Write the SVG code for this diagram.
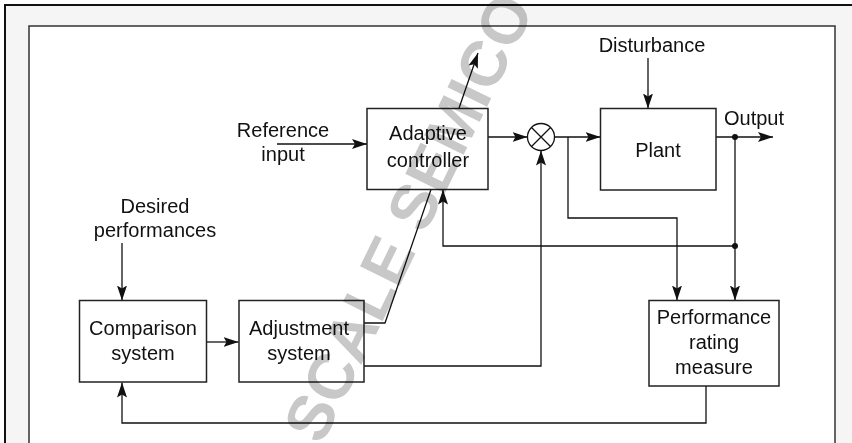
<svg xmlns="http://www.w3.org/2000/svg" width="852" height="443" viewBox="0 0 852 443">
<style>
.t{font-family:"Liberation Sans",Arial,sans-serif;font-size:20px;fill:#111;text-anchor:middle}
.box{fill:#fff;stroke:#222;stroke-width:1.5}
.ln{fill:none;stroke:#111;stroke-width:1.3}
.arr{marker-end:url(#ah)}
.wm{font-family:"Liberation Sans",Arial,sans-serif;font-weight:bold;font-size:64px;fill:#c8c8c8;mix-blend-mode:multiply}
</style>
<defs>
<marker id="ah" markerUnits="userSpaceOnUse" markerWidth="16" markerHeight="10" refX="15" refY="5" orient="auto"><path d="M0,0 L15,5 L0,10 L3,5 z" fill="#111"/></marker>
</defs>
<rect x="0" y="0" width="852" height="443" fill="#fff"/>
<rect x="5" y="5" width="900" height="500" fill="#f5f5f5" stroke="#111" stroke-width="2"/>
<rect x="29" y="26" width="806" height="480" fill="#fff" stroke="#333" stroke-width="1.5"/>

<g id="connectors">
<path class="ln arr" d="M277,144 H367"/>
<path class="ln arr" d="M488,137 H527.5"/>
<path class="ln arr" d="M554.5,137 H600.5"/>
<path class="ln arr" d="M648,58 V108.5"/>
<path class="ln arr" d="M716,137 H773"/>
<path class="ln arr" d="M735,137 V300.5"/>
<path class="ln arr" d="M735,246 H443 V189.5"/>
<path class="ln arr" d="M568,137 V218 H677 V300.5"/>
<path class="ln arr" d="M706,386 V423 H122 V382.5"/>
<path class="ln arr" d="M122,243 V300.5"/>
<path class="ln arr" d="M207,342 H238.5"/>
<path class="ln arr" d="M364,323 H385 L478,53"/>
<path class="ln arr" d="M364,366 H541 V150.5"/>
<circle cx="735" cy="137" r="3" fill="#111"/>
<circle cx="735" cy="246" r="3" fill="#111"/>
</g>

<g id="comparison">
<rect class="box" x="79.5" y="300.5" width="127" height="81.5"/>
<text class="t" x="143" y="335">Comparison</text>
<text class="t" x="143" y="360">system</text>
</g>
<g id="adjustment">
<rect class="box" x="239" y="300.5" width="125" height="81.5"/>
<text class="t" x="299" y="335">Adjustment</text>
<text class="t" x="299" y="360">system</text>
</g>
<g id="controller">
<rect class="box" x="367" y="108.5" width="121" height="81"/>
<text class="t" x="428" y="140">Adaptive</text>
<text class="t" x="428" y="167">controller</text>
</g>
<g id="plant">
<rect class="box" x="600.5" y="108.5" width="115.5" height="81.5"/>
<text class="t" x="658" y="157">Plant</text>
</g>
<g id="performance">
<rect class="box" x="649" y="300.5" width="130" height="85.5"/>
<text class="t" x="714" y="324">Performance</text>
<text class="t" x="714" y="348.5">rating</text>
<text class="t" x="714" y="373.5">measure</text>
</g>
<g id="sum">
<circle cx="541" cy="137" r="13.5" fill="#fff" stroke="#111" stroke-width="1.3"/>
<path d="M531.5,127.5 L550.5,146.5 M550.5,127.5 L531.5,146.5" stroke="#111" stroke-width="1.3"/>
</g>
<g id="labels">
<text class="t" x="652" y="52">Disturbance</text>
<text class="t" x="754" y="125">Output</text>
<text class="t" x="283" y="137">Reference</text>
<text class="t" x="283" y="161">input</text>
<text class="t" x="155" y="213">Desired</text>
<text class="t" x="155" y="237">performances</text>
</g>
<text class="wm" transform="translate(321.5,446.2) rotate(-64)">SCALE SEMICO</text>
</svg>
